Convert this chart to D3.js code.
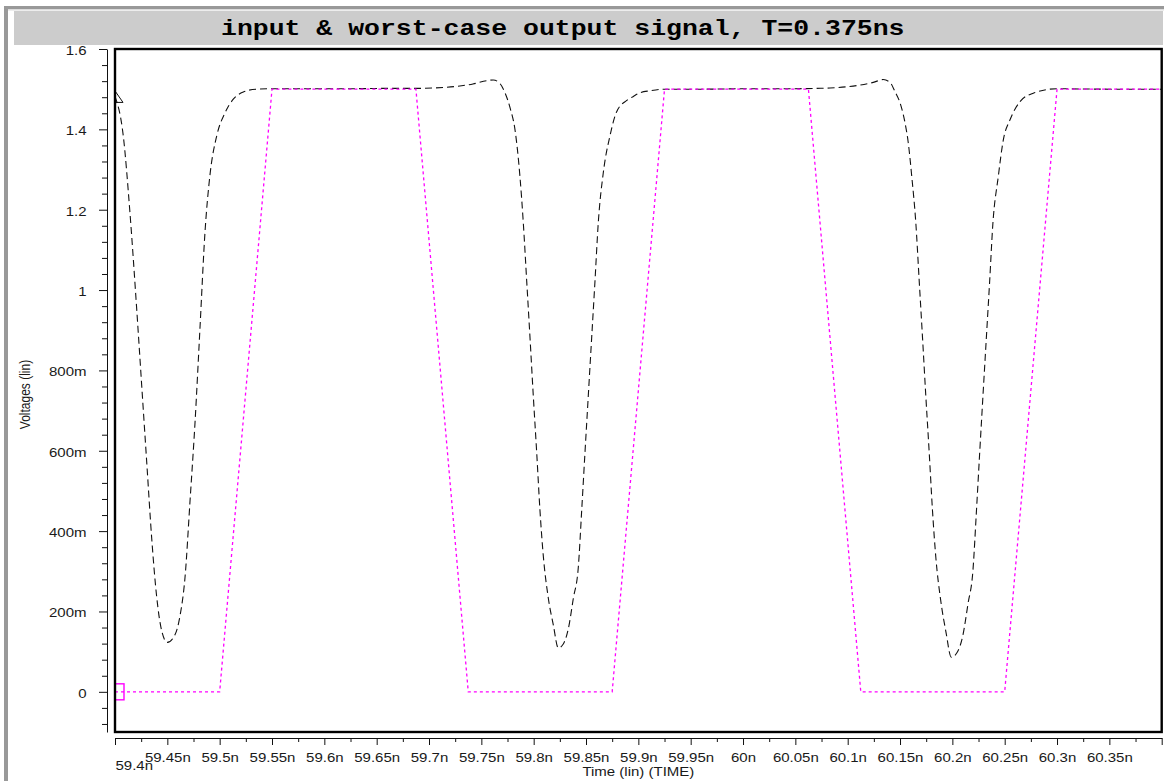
<!DOCTYPE html>
<html>
<head>
<meta charset="utf-8">
<script src="https://cdn.jsdelivr.net/npm/d3@7"></script>
<style>
  html, body { margin: 0; padding: 0; background: #fff; }
  svg { display: block; }
</style>
</head>
<body>
<svg id="chart" width="1164" height="781"></svg>
<script>
// ---- chart text ----
const titleText = "input & worst-case output signal, T=0.375ns";
const xAxisTitle = "Time (lin) (TIME)";
const yAxisTitle = "Voltages (lin)";

// ---- axis ticks (time in ns, voltage in V) ----
const xTickValues = [59.4, 59.45, 59.5, 59.55, 59.6, 59.65, 59.7, 59.75, 59.8, 59.85, 59.9,
                     59.95, 60.0, 60.05, 60.1, 60.15, 60.2, 60.25, 60.3, 60.35, 60.4];
const xTickLabels = ["59.4n", "59.45n", "59.5n", "59.55n", "59.6n", "59.65n", "59.7n", "59.75n",
                     "59.8n", "59.85n", "59.9n", "59.95n", "60n", "60.05n", "60.1n", "60.15n",
                     "60.2n", "60.25n", "60.3n", "60.35n", ""];
const yTickValues = [0, 0.2, 0.4, 0.6, 0.8, 1.0, 1.2, 1.4, 1.6];
const yTickLabels = ["0", "200m", "400m", "600m", "800m", "1", "1.2", "1.4", "1.6"];

// ---- input stimulus (trapezoid, period 0.375 ns) ----
const inputTime  = [59.4, 59.5, 59.55, 59.6875, 59.7375, 59.875, 59.925, 60.0625, 60.1125, 60.25, 60.3, 60.4];
const inputVolts = [0,    0,    1.5,   1.5,     0,       0,      1.5,    1.5,     0,       0,     1.5,  1.5];

// ---- worst-case output ----
const outputTime = [
  59.4000, 59.4079, 59.4143, 59.4207, 59.4255, 59.4303, 59.4351, 59.4398, 59.4446, 59.4500,
  59.4573, 59.4621, 59.4669, 59.4717, 59.4764, 59.4812, 59.4860, 59.4908, 59.4972, 59.5051,
  59.5130, 59.5226, 59.5354, 59.5497, 59.5800, 59.6200, 59.6600, 59.6900, 59.7038, 59.7265,
  59.7420, 59.7551, 59.7614, 59.7678, 59.7726, 59.7774, 59.7822, 59.7869, 59.7901, 59.7933,
  59.7965, 59.7996, 59.8029, 59.8060, 59.8092, 59.8140, 59.8188, 59.8235, 59.8283, 59.8331,
  59.8379, 59.8426, 59.8459, 59.8490, 59.8522, 59.8554, 59.8586, 59.8617, 59.8665, 59.8729,
  59.8793, 59.8889, 59.8952, 59.9016, 59.9112, 59.9245, 59.9600, 60.0000, 60.0400, 60.0700,
  60.0831, 60.1086, 60.1245, 60.1340, 60.1404, 60.1452, 60.1500, 60.1548, 60.1579, 60.1612,
  60.1651, 60.1683, 60.1715, 60.1746, 60.1779, 60.1810, 60.1842, 60.1890, 60.1938, 60.1990,
  60.2045, 60.2100, 60.2150, 60.2196, 60.2229, 60.2260, 60.2292, 60.2324, 60.2356, 60.2387,
  60.2439, 60.2487, 60.2551, 60.2646, 60.2773, 60.2997, 60.3500, 60.4000
];
const outputVolts = [
  1.482, 1.384, 1.192, 0.954, 0.763, 0.572, 0.381, 0.237, 0.152, 0.123,
  0.142, 0.189, 0.285, 0.476, 0.668, 0.906, 1.145, 1.288, 1.384, 1.441,
  1.475, 1.493, 1.500, 1.501, 1.501, 1.501, 1.502, 1.502, 1.503, 1.507,
  1.513, 1.521, 1.523, 1.514, 1.491, 1.454, 1.398, 1.282, 1.167, 1.024,
  0.881, 0.738, 0.595, 0.452, 0.338, 0.233, 0.166, 0.109, 0.119, 0.157,
  0.233, 0.309, 0.453, 0.595, 0.738, 0.881, 1.024, 1.167, 1.292, 1.384,
  1.444, 1.472, 1.482, 1.491, 1.496, 1.500, 1.500, 1.501, 1.501, 1.502,
  1.503, 1.509, 1.517, 1.524, 1.517, 1.494, 1.466, 1.416, 1.366, 1.283,
  1.167, 1.024, 0.881, 0.738, 0.595, 0.452, 0.335, 0.225, 0.150, 0.086,
  0.098, 0.140, 0.220, 0.300, 0.445, 0.590, 0.735, 0.878, 1.020, 1.165,
  1.283, 1.374, 1.424, 1.469, 1.490, 1.501, 1.500, 1.500
];

// ---- layout ----
const W = 1164, H = 781;
const plot = { left: 115, top: 49, right: 1161.7, bottom: 732 };
const textFont = "'Liberation Sans', Arial, Helvetica, sans-serif";
const stretch = 1.25;   // horizontally widened lettering

const svg = d3.select("#chart");

const x = d3.scaleLinear().domain([59.4, 60.4]).range([plot.left, plot.right]);
const y = d3.scaleLinear().domain([-0.1, 1.6]).range([plot.bottom, plot.top]);

// window frame and title bar
svg.append("rect").attr("x", 0).attr("y", 0).attr("width", W).attr("height", H).attr("fill", "#fff");
svg.append("rect").attr("x", 4).attr("y", 6).attr("width", W - 4).attr("height", 3).attr("fill", "#999");
svg.append("rect").attr("x", 4).attr("y", 9).attr("width", W - 4).attr("height", 1.5).attr("fill", "#dcdcdc");
svg.append("rect").attr("x", 4).attr("y", 6).attr("width", 4).attr("height", H - 6).attr("fill", "#999");
svg.append("rect").attr("x", 14).attr("y", 11).attr("width", 1149).attr("height", 34).attr("fill", "#cccccc");

svg.append("text")
  .attr("transform", `translate(221,35) scale(${stretch},1)`)
  .attr("font-family", "'Liberation Mono', 'Courier New', monospace")
  .attr("font-weight", "bold")
  .attr("font-size", 21.2)
  .attr("fill", "#000")
  .text(titleText);

// ---- x axis ----
const xMinor = xTickValues.slice(0, -1).map((v, i) => (v + xTickValues[i + 1]) / 2);
const xAxisY = 738;

svg.append("g")
  .attr("transform", `translate(0,${xAxisY})`)
  .call(d3.axisBottom(x).tickValues(xMinor).tickSize(4).tickSizeOuter(0).tickFormat(""))
  .call(g => g.select(".domain").remove())
  .call(g => g.selectAll("line").attr("stroke", "#111"));

const gx = svg.append("g")
  .attr("transform", `translate(0,${xAxisY})`)
  .call(d3.axisBottom(x).tickValues(xTickValues).tickSize(7).tickSizeOuter(0)
        .tickFormat((d, i) => xTickLabels[i]));
gx.select(".domain").attr("stroke", "#111");
gx.selectAll("line").attr("stroke", "#111");
gx.selectAll("text")
  .attr("font-family", textFont)
  .attr("font-size", 12)
  .attr("fill", "#1a1a1a")
  .attr("dy", null)
  .attr("y", 24)
  .attr("transform", `scale(${stretch},1)`);
gx.selectAll("text").filter((d, i) => i === 0)
  .attr("text-anchor", "start")
  .attr("y", 32.5);

svg.append("text")
  .attr("transform", `translate(${(plot.left + plot.right) / 2},776) scale(${stretch},1)`)
  .attr("text-anchor", "middle")
  .attr("font-family", textFont)
  .attr("font-size", 12)
  .attr("fill", "#1a1a1a")
  .text(xAxisTitle);

// ---- y axis ----
const yAxisX = 107;
const yMinor = d3.range(-2, 41).map(i => +(i * 0.04).toFixed(2))
  .filter(v => !yTickValues.some(t => Math.abs(t - v) < 1e-6));

svg.append("g")
  .attr("transform", `translate(${yAxisX},0)`)
  .call(d3.axisLeft(y).tickValues(yMinor).tickSize(5).tickSizeOuter(0).tickFormat(""))
  .call(g => g.select(".domain").remove())
  .call(g => g.selectAll("line").attr("stroke", "#111"));

const gy = svg.append("g")
  .attr("transform", `translate(${yAxisX},0)`)
  .call(d3.axisLeft(y).tickValues(yTickValues).tickSize(8).tickSizeOuter(0)
        .tickFormat((d, i) => yTickLabels[i]));
gy.select(".domain").attr("stroke", "#111");
gy.selectAll("line").attr("stroke", "#111");
gy.selectAll("text")
  .attr("font-family", textFont)
  .attr("font-size", 12)
  .attr("fill", "#1a1a1a")
  .attr("x", -16.4)
  .attr("dy", "0.45em")
  .attr("transform", `scale(${stretch},1)`);

svg.append("text")
  .attr("transform", `translate(30,${(plot.top + plot.bottom) / 2 + 4}) scale(${stretch},1) rotate(-90)`)
  .attr("text-anchor", "middle")
  .attr("font-family", textFont)
  .attr("font-size", 12)
  .attr("fill", "#1a1a1a")
  .text(yAxisTitle);

// ---- traces ----
svg.append("clipPath").attr("id", "plot-clip")
  .append("rect")
  .attr("x", plot.left).attr("y", plot.top)
  .attr("width", plot.right - plot.left).attr("height", plot.bottom - plot.top);

const traces = svg.append("g").attr("clip-path", "url(#plot-clip)");

const outputData = outputTime.map((t, i) => [t, outputVolts[i]]);
const inputData = inputTime.map((t, i) => [t, inputVolts[i]]);

traces.append("path")
  .datum(outputData)
  .attr("fill", "none")
  .attr("stroke", "#111")
  .attr("stroke-width", 1.1)
  .attr("stroke-dasharray", "7,4")
  .attr("d", d3.line().x(d => x(d[0])).y(d => y(d[1])).curve(d3.curveMonotoneX));

traces.append("path")
  .datum(inputData)
  .attr("fill", "none")
  .attr("stroke", "#ff00ff")
  .attr("stroke-width", 1.3)
  .attr("stroke-dasharray", "3,3")
  .attr("d", d3.line().x(d => x(d[0])).y(d => y(d[1])));

// trace markers at the first sample of each signal
const ox = x(outputData[0][0]), oy = y(outputData[0][1]);
traces.append("path")
  .attr("d", `M${ox},${oy - 5.5} L${ox + 8},${oy + 6} L${ox - 8},${oy + 6} Z`)
  .attr("fill", "none")
  .attr("stroke", "#111")
  .attr("stroke-width", 1);

const ix = x(inputData[0][0]), iy = y(inputData[0][1]);
traces.append("rect")
  .attr("x", ix - 9).attr("y", iy - 8)
  .attr("width", 18).attr("height", 16)
  .attr("fill", "none")
  .attr("stroke", "#ff00ff")
  .attr("stroke-width", 1.4);

// plot frame
svg.append("rect")
  .attr("x", plot.left).attr("y", plot.top)
  .attr("width", plot.right - plot.left).attr("height", plot.bottom - plot.top)
  .attr("fill", "none")
  .attr("stroke", "#000")
  .attr("stroke-width", 2.4);
</script>
</body>
</html>
